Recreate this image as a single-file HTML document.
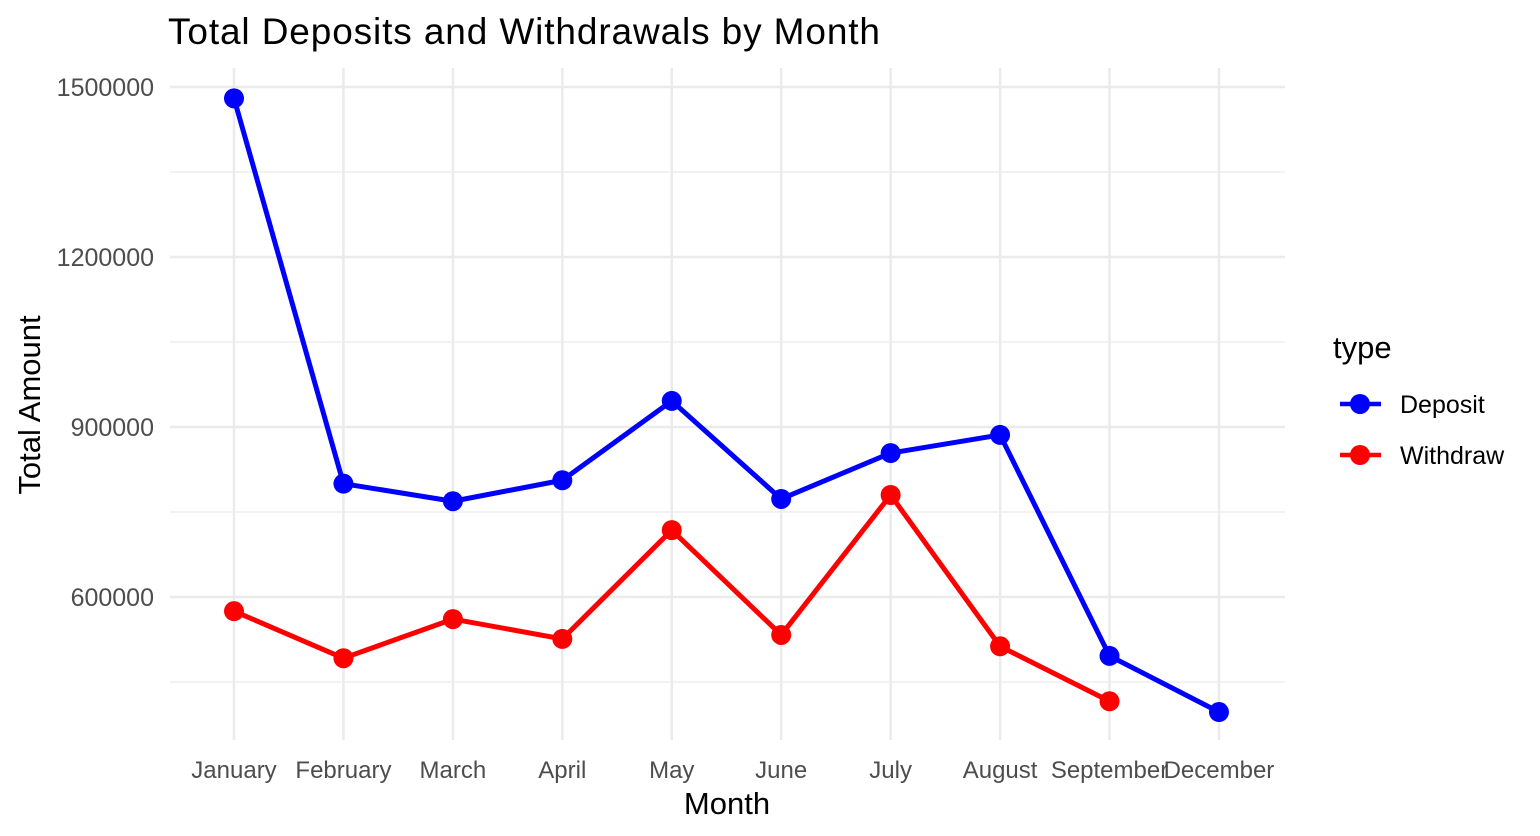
<!DOCTYPE html>
<html><head><meta charset="utf-8"><style>
body{margin:0;background:#fff;}
svg{display:block;font-family:"Liberation Sans",Arial,sans-serif;}
</style></head><body>
<svg id="chart" width="1540" height="836">
<text x="168" y="44" font-size="37" textLength="712" fill="#000">Total Deposits and Withdrawals by Month</text>
<g id="grid"></g>
<g id="series"></g>
<g id="axes"></g>
<text x="727" y="814" font-size="31" text-anchor="middle" fill="#000">Month</text>
<text transform="translate(40,405) rotate(-90)" font-size="31" text-anchor="middle" fill="#000">Total Amount</text>
<g>
<text x="1333" y="358" font-size="31" fill="#000">type</text>
<g>
<line x1="1340" y1="404" x2="1381" y2="404" stroke="#0000ff" stroke-width="4.5"/>
<circle cx="1360" cy="404" r="10" fill="#0000ff"/>
<text x="1400" y="413" font-size="25" fill="#000">Deposit</text></g>
<g>
<line x1="1340" y1="455" x2="1381" y2="455" stroke="#ff0000" stroke-width="4.5"/>
<circle cx="1360" cy="455" r="10" fill="#ff0000"/>
<text x="1400" y="464" font-size="25" fill="#000">Withdraw</text></g>
</g>
</svg>
<script>
const categories=["January","February","March","April","May","June","July","August","September","December"];
const depositValues=[1480000,800000,769000,806000,946000,773000,854000,886000,496000,397000];
const withdrawValues=[575000,492000,561000,526000,718000,533000,780000,513000,416000,null];
const yTicks=[600000,900000,1200000,1500000];
const yMinor=[450000,750000,1050000,1350000];
const NS="http://www.w3.org/2000/svg";
function xPos(i){return 234+i*109.44;}
function yPos(v){return 597-(v-600000)*170/300000;}
function mk(tag,attrs,parent){const e=document.createElementNS(NS,tag);for(const k in attrs)e.setAttribute(k,attrs[k]);parent.appendChild(e);return e;}
const grid=document.getElementById('grid'),axes=document.getElementById('axes'),ser=document.getElementById('series');
const L=170,R=1285,T=68,B=740;
yMinor.forEach(v=>{const l=mk('line',{x1:L,x2:R,y1:yPos(v),y2:yPos(v),stroke:'#ebebeb','stroke-width':1.2},grid);

});
yTicks.forEach(v=>{const l=mk('line',{x1:L,x2:R,y1:yPos(v),y2:yPos(v),stroke:'#ebebeb','stroke-width':2.5},grid);


const t=mk('text',{x:154,y:yPos(v)+9,'font-size':25,'text-anchor':'end',fill:'#4d4d4d'},axes);t.textContent=v;

});
categories.forEach((c,i)=>{const l=mk('line',{x1:xPos(i),x2:xPos(i),y1:T,y2:B,stroke:'#ebebeb','stroke-width':2.5},grid);


const t=mk('text',{x:xPos(i),y:778,'font-size':24,'text-anchor':'middle',fill:'#4d4d4d'},axes);t.textContent=c;

});
function drawSeries(vals,color,name){
let pts=[];vals.forEach((v,i)=>{if(v!=null)pts.push([xPos(i),yPos(v)]);});
const p=mk('polyline',{points:pts.map(p=>p.join(',')).join(' '),fill:'none',stroke:color,'stroke-width':5,'stroke-linejoin':'round'},ser);


vals.forEach((v,i)=>{if(v==null)return;const c=mk('circle',{cx:xPos(i),cy:yPos(v),r:10,fill:color},ser);

});}
drawSeries(depositValues,'#0000ff','deposit');
drawSeries(withdrawValues,'#ff0000','withdraw');
</script>
</body></html>
